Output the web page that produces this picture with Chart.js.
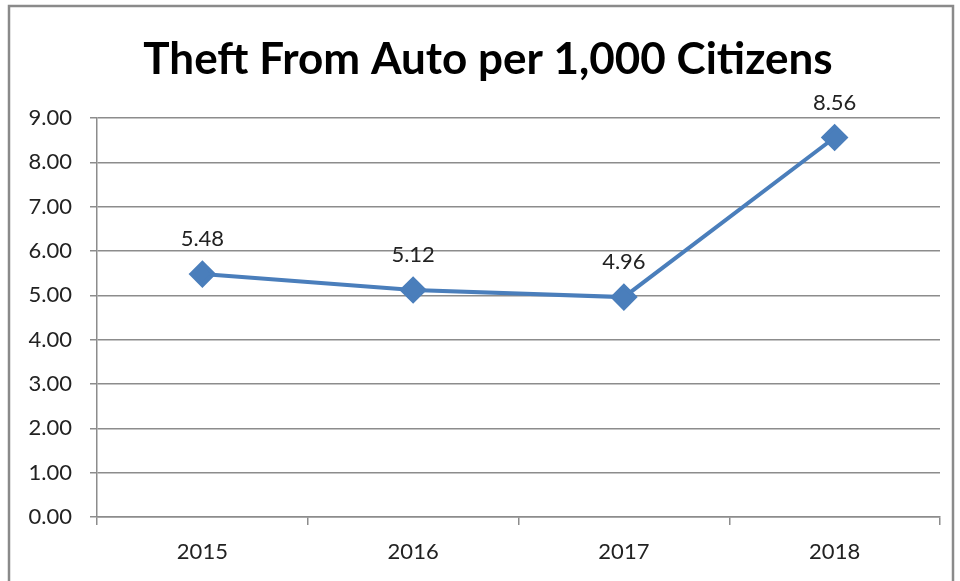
<!DOCTYPE html>
<html>
<head>
<meta charset="utf-8">
<script src="https://cdn.jsdelivr.net/npm/chart.js@4/dist/chart.umd.min.js"></script>
<style>
  html, body { margin: 0; padding: 0; background: #fff; }
  #wrap { width: 960px; height: 581px; position: relative; }
</style>
</head>
<body>
<div id="wrap"><canvas id="theftChart"></canvas></div>
<script>
// data
const years = ["2015", "2016", "2017", "2018"];
const theftRates = [5.48, 5.12, 4.96, 8.56];
const yTickLabels = ["0.00", "1.00", "2.00", "3.00", "4.00", "5.00", "6.00", "7.00", "8.00", "9.00"];
const chartTitle = "Theft From Auto per 1,000 Citizens";

const lineColor = "#4a7ebb";
const gridColor = "#8c8c8c";
const fontFamily = "Lato, 'Open Sans', sans-serif";

// outer frame like the excel chart border + title (centred on the frame, not the canvas)
const framePlugin = {
  id: "frame",
  beforeDraw(chart) {
    const c = chart.ctx;
    c.save();
    c.fillStyle = "#fff";
    c.fillRect(0, 0, chart.width, chart.height);
    c.strokeStyle = "#8a8a8a";
    c.lineWidth = 2.5;
    c.strokeRect(9, 6, 944, 620);

    c.font = "bold 44px " + fontFamily;
    c.fillStyle = "#000";
    c.textAlign = "center";
    c.textBaseline = "middle";
    c.fillText(chartTitle, 488, 60);
    c.restore();
  },
};

// value labels above each marker
const valueLabels = {
  id: "valueLabels",
  afterDatasetsDraw(chart) {
    const c = chart.ctx;
    const meta = chart.getDatasetMeta(0);
    c.save();
    c.font = "22px " + fontFamily;
    c.fillStyle = "#222";
    c.textAlign = "center";
    c.textBaseline = "middle";
    meta.data.forEach((pt, i) => {
      c.fillText(theftRates[i].toFixed(2), pt.x, pt.y - 35);
    });
    c.restore();
  },
};

new Chart(document.getElementById("theftChart"), {
  type: "line",
  data: {
    labels: years,
    datasets: [
      {
        label: "Theft From Auto",
        data: theftRates,
        borderColor: lineColor,
        backgroundColor: lineColor,
        borderWidth: 4,
        pointStyle: "rectRot",
        pointRadius: 11,
        pointHoverRadius: 11,
        tension: 0,
      },
    ],
  },
  options: {
    responsive: true,
    maintainAspectRatio: false,
    animation: false,
    layout: {
      padding: { left: 8, right: 20, top: 118, bottom: 14 },
    },
    scales: {
      y: {
        min: 0,
        max: 9,
        ticks: {
          stepSize: 1,
          color: "#222",
          padding: 18,
          font: { family: fontFamily, size: 22 },
          callback: (value) => yTickLabels[value],
        },
        grid: {
          color: gridColor,
          lineWidth: 1.5,
          tickLength: 7,
        },
        border: { color: gridColor, width: 1.5 },
        afterFit: (scale) => { scale.width = 89; },
      },
      x: {
        offset: true,
        ticks: {
          color: "#222",
          padding: 14,
          font: { family: fontFamily, size: 22 },
        },
        grid: {
          offset: true,
          drawOnChartArea: false,
          color: gridColor,
          lineWidth: 1.5,
          tickLength: 8,
        },
        border: { color: gridColor, width: 1.5 },
        afterFit: (scale) => { scale.height = 50; },
      },
    },
    plugins: {
      legend: { display: false },
      tooltip: { enabled: false },
      title: { display: false },
    },
  },
  plugins: [framePlugin, valueLabels],
});
</script>
</body>
</html>
